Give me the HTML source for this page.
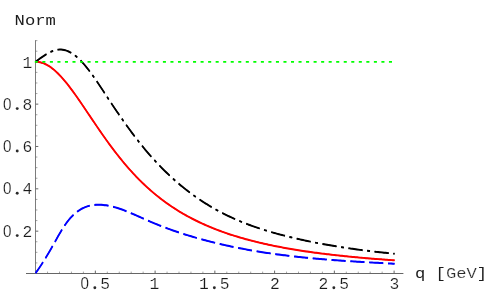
<!DOCTYPE html>
<html><head><meta charset="utf-8"><title>Norm vs q</title>
<style>
html,body{margin:0;padding:0;background:#fff;}
body{width:491px;height:303px;overflow:hidden;}
svg{display:block;will-change:transform;}
text{font-family:"Liberation Mono",monospace;fill:#1a1a1a;stroke:#fff;stroke-width:0.18px;}
text.z{font-family:"Liberation Sans",sans-serif;}
text.l{stroke:none;fill:#1c1c1c;}
tspan.t{stroke:#fff;stroke-width:0.2px;fill:#2a2a2a;}
</style></head><body>
<svg width="491" height="303" viewBox="0 0 491 303">
<rect width="491" height="303" fill="#fff"/>
<g stroke="#666" stroke-width="1" fill="none">
<line x1="26.0" y1="273.5" x2="403.4" y2="273.5"/>
<line x1="35.5" y1="40.2" x2="35.5" y2="273.5" stroke="#757575" stroke-width="0.95"/>
<line x1="47.55" y1="273.50" x2="47.55" y2="271.60" stroke-opacity="0.6"/>
<line x1="59.50" y1="273.50" x2="59.50" y2="271.60" stroke-opacity="0.6"/>
<line x1="71.45" y1="273.50" x2="71.45" y2="271.60" stroke-opacity="0.6"/>
<line x1="83.40" y1="273.50" x2="83.40" y2="271.60" stroke-opacity="0.6"/>
<line x1="95.35" y1="273.50" x2="95.35" y2="270.60"/>
<line x1="107.30" y1="273.50" x2="107.30" y2="271.60" stroke-opacity="0.6"/>
<line x1="119.25" y1="273.50" x2="119.25" y2="271.60" stroke-opacity="0.6"/>
<line x1="131.20" y1="273.50" x2="131.20" y2="271.60" stroke-opacity="0.6"/>
<line x1="143.15" y1="273.50" x2="143.15" y2="271.60" stroke-opacity="0.6"/>
<line x1="155.10" y1="273.50" x2="155.10" y2="270.60"/>
<line x1="167.05" y1="273.50" x2="167.05" y2="271.60" stroke-opacity="0.6"/>
<line x1="179.00" y1="273.50" x2="179.00" y2="271.60" stroke-opacity="0.6"/>
<line x1="190.95" y1="273.50" x2="190.95" y2="271.60" stroke-opacity="0.6"/>
<line x1="202.90" y1="273.50" x2="202.90" y2="271.60" stroke-opacity="0.6"/>
<line x1="214.85" y1="273.50" x2="214.85" y2="270.60"/>
<line x1="226.80" y1="273.50" x2="226.80" y2="271.60" stroke-opacity="0.6"/>
<line x1="238.75" y1="273.50" x2="238.75" y2="271.60" stroke-opacity="0.6"/>
<line x1="250.70" y1="273.50" x2="250.70" y2="271.60" stroke-opacity="0.6"/>
<line x1="262.65" y1="273.50" x2="262.65" y2="271.60" stroke-opacity="0.6"/>
<line x1="274.60" y1="273.50" x2="274.60" y2="270.60"/>
<line x1="286.55" y1="273.50" x2="286.55" y2="271.60" stroke-opacity="0.6"/>
<line x1="298.50" y1="273.50" x2="298.50" y2="271.60" stroke-opacity="0.6"/>
<line x1="310.45" y1="273.50" x2="310.45" y2="271.60" stroke-opacity="0.6"/>
<line x1="322.40" y1="273.50" x2="322.40" y2="271.60" stroke-opacity="0.6"/>
<line x1="334.35" y1="273.50" x2="334.35" y2="270.60"/>
<line x1="346.30" y1="273.50" x2="346.30" y2="271.60" stroke-opacity="0.6"/>
<line x1="358.25" y1="273.50" x2="358.25" y2="271.60" stroke-opacity="0.6"/>
<line x1="370.20" y1="273.50" x2="370.20" y2="271.60" stroke-opacity="0.6"/>
<line x1="382.15" y1="273.50" x2="382.15" y2="271.60" stroke-opacity="0.6"/>
<line x1="394.10" y1="273.50" x2="394.10" y2="270.60"/>
<line x1="35.60" y1="262.92" x2="37.40" y2="262.92" stroke-opacity="0.6"/>
<line x1="35.60" y1="252.33" x2="37.40" y2="252.33" stroke-opacity="0.6"/>
<line x1="35.60" y1="241.75" x2="37.40" y2="241.75" stroke-opacity="0.6"/>
<line x1="35.60" y1="231.16" x2="38.30" y2="231.16"/>
<line x1="35.60" y1="220.57" x2="37.40" y2="220.57" stroke-opacity="0.6"/>
<line x1="35.60" y1="209.99" x2="37.40" y2="209.99" stroke-opacity="0.6"/>
<line x1="35.60" y1="199.41" x2="37.40" y2="199.41" stroke-opacity="0.6"/>
<line x1="35.60" y1="188.82" x2="38.30" y2="188.82"/>
<line x1="35.60" y1="178.24" x2="37.40" y2="178.24" stroke-opacity="0.6"/>
<line x1="35.60" y1="167.65" x2="37.40" y2="167.65" stroke-opacity="0.6"/>
<line x1="35.60" y1="157.06" x2="37.40" y2="157.06" stroke-opacity="0.6"/>
<line x1="35.60" y1="146.48" x2="38.30" y2="146.48"/>
<line x1="35.60" y1="135.90" x2="37.40" y2="135.90" stroke-opacity="0.6"/>
<line x1="35.60" y1="125.31" x2="37.40" y2="125.31" stroke-opacity="0.6"/>
<line x1="35.60" y1="114.73" x2="37.40" y2="114.73" stroke-opacity="0.6"/>
<line x1="35.60" y1="104.14" x2="38.30" y2="104.14"/>
<line x1="35.60" y1="93.55" x2="37.40" y2="93.55" stroke-opacity="0.6"/>
<line x1="35.60" y1="82.97" x2="37.40" y2="82.97" stroke-opacity="0.6"/>
<line x1="35.60" y1="72.38" x2="37.40" y2="72.38" stroke-opacity="0.6"/>
<line x1="35.60" y1="61.80" x2="38.30" y2="61.80"/>
<line x1="35.60" y1="51.22" x2="37.40" y2="51.22" stroke-opacity="0.6"/>
<line x1="35.60" y1="40.63" x2="37.40" y2="40.63" stroke-opacity="0.6"/>
</g>
<g stroke="#ff0000" stroke-width="1.55" fill="none"><path d="M35.60,61.58 L37.10,61.63 L38.60,61.79 L40.11,62.06 L41.61,62.45 L43.11,62.94 L44.61,63.54 L46.11,64.24 L47.62,65.06 L49.12,65.97 L50.62,66.98 L52.12,68.08 L53.63,69.28 L55.13,70.57 L56.63,71.94 L58.13,73.40 L59.63,74.93 L61.14,76.54 L62.64,78.21 L64.14,79.95 L65.64,81.76 L67.14,83.61 L68.65,85.53 L70.15,87.49 L71.65,89.49 L73.15,91.53 L74.65,93.61 L76.16,95.72 L77.66,97.86 L79.16,100.03 L80.66,102.21 L82.16,104.41 L83.67,106.62 L85.17,108.85 L86.67,111.08 L88.17,113.31 L89.68,115.55 L91.18,117.79 L92.68,120.02 L94.18,122.24 L95.68,124.46 L97.19,126.67 L98.69,128.86 L100.19,131.04 L101.69,133.21 L103.19,135.35 L104.70,137.48 L106.20,139.59 L107.70,141.67 L109.20,143.74 L110.70,145.78 L112.21,147.79 L113.71,149.78 L115.21,151.75 L116.71,153.69 L118.22,155.60 L119.72,157.49 L121.22,159.35 L122.72,161.18 L124.22,162.99 L125.73,164.76 L127.23,166.51 L128.73,168.23 L130.23,169.92 L131.73,171.58 L133.24,173.22 L134.74,174.83 L136.24,176.41 L137.74,177.96 L139.24,179.49 L140.75,180.98 L142.25,182.46 L143.75,183.90 L145.25,185.32 L146.75,186.71 L148.26,188.08 L149.76,189.42 L151.26,190.74 L152.76,192.03 L154.27,193.30 L155.77,194.55 L157.27,195.77 L158.77,196.97 L160.27,198.15 L161.78,199.30 L163.28,200.43 L164.78,201.54 L166.28,202.63 L167.78,203.70 L169.29,204.75 L170.79,205.78 L172.29,206.78 L173.79,207.77 L175.29,208.74 L176.80,209.70 L178.30,210.63 L179.80,211.55 L181.30,212.45 L182.81,213.33 L184.31,214.19 L185.81,215.04 L187.31,215.87 L188.81,216.69 L190.32,217.49 L191.82,218.28 L193.32,219.05 L194.82,219.81 L196.32,220.55 L197.83,221.28 L199.33,222.00 L200.83,222.70 L202.33,223.40 L203.83,224.08 L205.34,224.75 L206.84,225.40 L208.34,226.05 L209.84,226.68 L211.34,227.30 L212.85,227.91 L214.35,228.51 L215.85,229.10 L217.35,229.68 L218.86,230.25 L220.36,230.81 L221.86,231.36 L223.36,231.90 L224.86,232.43 L226.37,232.95 L227.87,233.46 L229.37,233.96 L230.87,234.45 L232.37,234.94 L233.88,235.41 L235.38,235.88 L236.88,236.34 L238.38,236.80 L239.88,237.24 L241.39,237.68 L242.89,238.11 L244.39,238.53 L245.89,238.95 L247.39,239.36 L248.90,239.76 L250.40,240.16 L251.90,240.55 L253.40,240.93 L254.91,241.31 L256.41,241.68 L257.91,242.05 L259.41,242.40 L260.91,242.76 L262.42,243.11 L263.92,243.45 L265.42,243.79 L266.92,244.12 L268.42,244.44 L269.93,244.77 L271.43,245.08 L272.93,245.39 L274.43,245.70 L275.93,246.00 L277.44,246.30 L278.94,246.59 L280.44,246.88 L281.94,247.17 L283.45,247.45 L284.95,247.72 L286.45,248.00 L287.95,248.26 L289.45,248.53 L290.96,248.79 L292.46,249.04 L293.96,249.30 L295.46,249.55 L296.96,249.79 L298.47,250.03 L299.97,250.27 L301.47,250.50 L302.97,250.73 L304.47,250.95 L305.98,251.17 L307.48,251.39 L308.98,251.61 L310.48,251.82 L311.98,252.03 L313.49,252.23 L314.99,252.43 L316.49,252.63 L317.99,252.83 L319.50,253.02 L321.00,253.22 L322.50,253.41 L324.00,253.59 L325.50,253.78 L327.01,253.96 L328.51,254.14 L330.01,254.31 L331.51,254.49 L333.01,254.66 L334.52,254.83 L336.02,255.00 L337.52,255.16 L339.02,255.32 L340.52,255.48 L342.03,255.64 L343.53,255.80 L345.03,255.96 L346.53,256.11 L348.04,256.26 L349.54,256.41 L351.04,256.55 L352.54,256.70 L354.04,256.84 L355.55,256.98 L357.05,257.12 L358.55,257.26 L360.05,257.40 L361.55,257.53 L363.06,257.66 L364.56,257.80 L366.06,257.92 L367.56,258.05 L369.06,258.18 L370.57,258.30 L372.07,258.43 L373.57,258.55 L375.07,258.67 L376.57,258.79 L378.08,258.91 L379.58,259.02 L381.08,259.14 L382.58,259.25 L384.09,259.36 L385.59,259.47 L387.09,259.58 L388.59,259.69 L390.09,259.80 L391.60,259.90 L393.10,260.01 L394.60,260.11"/><path d="M35.60,62.02 L37.10,62.07 L38.60,62.23 L40.11,62.50 L41.61,62.89 L43.11,63.38 L44.61,63.98 L46.11,64.68 L47.62,65.50 L49.12,66.41 L50.62,67.42 L52.12,68.52 L53.63,69.72 L55.13,71.01 L56.63,72.38 L58.13,73.84 L59.63,75.37 L61.14,76.98 L62.64,78.65 L64.14,80.39 L65.64,82.20 L67.14,84.05 L68.65,85.97 L70.15,87.93 L71.65,89.93 L73.15,91.97 L74.65,94.05 L76.16,96.16 L77.66,98.30 L79.16,100.47 L80.66,102.65 L82.16,104.85 L83.67,107.06 L85.17,109.29 L86.67,111.52 L88.17,113.75 L89.68,115.99 L91.18,118.23 L92.68,120.46 L94.18,122.68 L95.68,124.90 L97.19,127.11 L98.69,129.30 L100.19,131.48 L101.69,133.65 L103.19,135.79 L104.70,137.92 L106.20,140.03 L107.70,142.11 L109.20,144.18 L110.70,146.22 L112.21,148.23 L113.71,150.22 L115.21,152.19 L116.71,154.13 L118.22,156.04 L119.72,157.93 L121.22,159.79 L122.72,161.62 L124.22,163.43 L125.73,165.20 L127.23,166.95 L128.73,168.67 L130.23,170.36 L131.73,172.02 L133.24,173.66 L134.74,175.27 L136.24,176.85 L137.74,178.40 L139.24,179.93 L140.75,181.42 L142.25,182.90 L143.75,184.34 L145.25,185.76 L146.75,187.15 L148.26,188.52 L149.76,189.86 L151.26,191.18 L152.76,192.47 L154.27,193.74 L155.77,194.99 L157.27,196.21 L158.77,197.41 L160.27,198.59 L161.78,199.74 L163.28,200.87 L164.78,201.98 L166.28,203.07 L167.78,204.14 L169.29,205.19 L170.79,206.22 L172.29,207.22 L173.79,208.21 L175.29,209.18 L176.80,210.14 L178.30,211.07 L179.80,211.99 L181.30,212.89 L182.81,213.77 L184.31,214.63 L185.81,215.48 L187.31,216.31 L188.81,217.13 L190.32,217.93 L191.82,218.72 L193.32,219.49 L194.82,220.25 L196.32,220.99 L197.83,221.72 L199.33,222.44 L200.83,223.14 L202.33,223.84 L203.83,224.52 L205.34,225.19 L206.84,225.84 L208.34,226.49 L209.84,227.12 L211.34,227.74 L212.85,228.35 L214.35,228.95 L215.85,229.54 L217.35,230.12 L218.86,230.69 L220.36,231.25 L221.86,231.80 L223.36,232.34 L224.86,232.87 L226.37,233.39 L227.87,233.90 L229.37,234.40 L230.87,234.89 L232.37,235.38 L233.88,235.85 L235.38,236.32 L236.88,236.78 L238.38,237.24 L239.88,237.68 L241.39,238.12 L242.89,238.55 L244.39,238.97 L245.89,239.39 L247.39,239.80 L248.90,240.20 L250.40,240.60 L251.90,240.99 L253.40,241.37 L254.91,241.75 L256.41,242.12 L257.91,242.49 L259.41,242.84 L260.91,243.20 L262.42,243.55 L263.92,243.89 L265.42,244.23 L266.92,244.56 L268.42,244.88 L269.93,245.21 L271.43,245.52 L272.93,245.83 L274.43,246.14 L275.93,246.44 L277.44,246.74 L278.94,247.03 L280.44,247.32 L281.94,247.61 L283.45,247.89 L284.95,248.16 L286.45,248.44 L287.95,248.70 L289.45,248.97 L290.96,249.23 L292.46,249.48 L293.96,249.74 L295.46,249.99 L296.96,250.23 L298.47,250.47 L299.97,250.71 L301.47,250.94 L302.97,251.17 L304.47,251.39 L305.98,251.61 L307.48,251.83 L308.98,252.05 L310.48,252.26 L311.98,252.47 L313.49,252.67 L314.99,252.87 L316.49,253.07 L317.99,253.27 L319.50,253.46 L321.00,253.66 L322.50,253.85 L324.00,254.03 L325.50,254.22 L327.01,254.40 L328.51,254.58 L330.01,254.75 L331.51,254.93 L333.01,255.10 L334.52,255.27 L336.02,255.44 L337.52,255.60 L339.02,255.76 L340.52,255.92 L342.03,256.08 L343.53,256.24 L345.03,256.40 L346.53,256.55 L348.04,256.70 L349.54,256.85 L351.04,256.99 L352.54,257.14 L354.04,257.28 L355.55,257.42 L357.05,257.56 L358.55,257.70 L360.05,257.84 L361.55,257.97 L363.06,258.10 L364.56,258.24 L366.06,258.36 L367.56,258.49 L369.06,258.62 L370.57,258.74 L372.07,258.87 L373.57,258.99 L375.07,259.11 L376.57,259.23 L378.08,259.35 L379.58,259.46 L381.08,259.58 L382.58,259.69 L384.09,259.80 L385.59,259.91 L387.09,260.02 L388.59,260.13 L390.09,260.24 L391.60,260.34 L393.10,260.45 L394.60,260.55"/></g>
<g stroke="#0000ff" stroke-width="1.55" fill="none" stroke-dasharray="14.1 4.75" stroke-dashoffset="1"><path d="M35.60,272.84 L37.10,270.77 L38.60,268.63 L40.11,266.42 L41.61,264.14 L43.11,261.80 L44.61,259.40 L46.11,256.95 L47.62,254.45 L49.12,251.90 L50.62,249.31 L52.12,246.68 L53.63,244.02 L55.13,241.33 L56.63,238.65 L58.13,235.98 L59.63,233.37 L61.14,230.82 L62.64,228.37 L64.14,226.03 L65.64,223.83 L67.14,221.78 L68.65,219.87 L70.15,218.09 L71.65,216.45 L73.15,214.94 L74.65,213.55 L76.16,212.28 L77.66,211.13 L79.16,210.09 L80.66,209.15 L82.16,208.31 L83.67,207.58 L85.17,206.93 L86.67,206.37 L88.17,205.90 L89.68,205.50 L91.18,205.18 L92.68,204.93 L94.18,204.74 L95.68,204.62 L97.19,204.55 L98.69,204.53 L100.19,204.56 L101.69,204.64 L103.19,204.76 L104.70,204.93 L106.20,205.13 L107.70,205.38 L109.20,205.66 L110.70,205.98 L112.21,206.33 L113.71,206.71 L115.21,207.13 L116.71,207.57 L118.22,208.04 L119.72,208.54 L121.22,209.06 L122.72,209.60 L124.22,210.16 L125.73,210.75 L127.23,211.34 L128.73,211.96 L130.23,212.59 L131.73,213.23 L133.24,213.87 L134.74,214.53 L136.24,215.20 L137.74,215.87 L139.24,216.54 L140.75,217.21 L142.25,217.89 L143.75,218.56 L145.25,219.23 L146.75,219.90 L148.26,220.55 L149.76,221.20 L151.26,221.84 L152.76,222.47 L154.27,223.10 L155.77,223.71 L157.27,224.32 L158.77,224.92 L160.27,225.51 L161.78,226.10 L163.28,226.67 L164.78,227.24 L166.28,227.80 L167.78,228.36 L169.29,228.90 L170.79,229.44 L172.29,229.98 L173.79,230.50 L175.29,231.02 L176.80,231.53 L178.30,232.04 L179.80,232.54 L181.30,233.03 L182.81,233.51 L184.31,233.99 L185.81,234.47 L187.31,234.94 L188.81,235.40 L190.32,235.85 L191.82,236.30 L193.32,236.75 L194.82,237.19 L196.32,237.62 L197.83,238.05 L199.33,238.47 L200.83,238.89 L202.33,239.30 L203.83,239.71 L205.34,240.11 L206.84,240.51 L208.34,240.90 L209.84,241.28 L211.34,241.67 L212.85,242.04 L214.35,242.41 L215.85,242.78 L217.35,243.14 L218.86,243.50 L220.36,243.85 L221.86,244.20 L223.36,244.55 L224.86,244.89 L226.37,245.22 L227.87,245.55 L229.37,245.88 L230.87,246.20 L232.37,246.51 L233.88,246.83 L235.38,247.13 L236.88,247.44 L238.38,247.74 L239.88,248.03 L241.39,248.32 L242.89,248.61 L244.39,248.89 L245.89,249.17 L247.39,249.45 L248.90,249.72 L250.40,249.98 L251.90,250.25 L253.40,250.51 L254.91,250.76 L256.41,251.01 L257.91,251.26 L259.41,251.51 L260.91,251.75 L262.42,251.98 L263.92,252.22 L265.42,252.45 L266.92,252.67 L268.42,252.90 L269.93,253.12 L271.43,253.33 L272.93,253.55 L274.43,253.76 L275.93,253.96 L277.44,254.17 L278.94,254.37 L280.44,254.56 L281.94,254.76 L283.45,254.95 L284.95,255.14 L286.45,255.32 L287.95,255.50 L289.45,255.68 L290.96,255.86 L292.46,256.03 L293.96,256.21 L295.46,256.37 L296.96,256.54 L298.47,256.70 L299.97,256.86 L301.47,257.02 L302.97,257.18 L304.47,257.33 L305.98,257.48 L307.48,257.63 L308.98,257.77 L310.48,257.92 L311.98,258.06 L313.49,258.20 L314.99,258.33 L316.49,258.47 L317.99,258.60 L319.50,258.73 L321.00,258.86 L322.50,258.99 L324.00,259.11 L325.50,259.23 L327.01,259.35 L328.51,259.47 L330.01,259.59 L331.51,259.71 L333.01,259.82 L334.52,259.93 L336.02,260.04 L337.52,260.15 L339.02,260.26 L340.52,260.37 L342.03,260.47 L343.53,260.57 L345.03,260.67 L346.53,260.77 L348.04,260.87 L349.54,260.97 L351.04,261.07 L352.54,261.16 L354.04,261.26 L355.55,261.35 L357.05,261.44 L358.55,261.53 L360.05,261.62 L361.55,261.71 L363.06,261.80 L364.56,261.89 L366.06,261.98 L367.56,262.06 L369.06,262.15 L370.57,262.23 L372.07,262.32 L373.57,262.40 L375.07,262.48 L376.57,262.56 L378.08,262.64 L379.58,262.73 L381.08,262.81 L382.58,262.89 L384.09,262.97 L385.59,263.05 L387.09,263.13 L388.59,263.21 L390.09,263.28 L391.60,263.36 L393.10,263.44 L394.60,263.52"/><path d="M35.60,273.28 L37.10,271.21 L38.60,269.07 L40.11,266.86 L41.61,264.58 L43.11,262.24 L44.61,259.84 L46.11,257.39 L47.62,254.89 L49.12,252.34 L50.62,249.75 L52.12,247.12 L53.63,244.46 L55.13,241.77 L56.63,239.09 L58.13,236.42 L59.63,233.81 L61.14,231.26 L62.64,228.81 L64.14,226.47 L65.64,224.27 L67.14,222.22 L68.65,220.31 L70.15,218.53 L71.65,216.89 L73.15,215.38 L74.65,213.99 L76.16,212.72 L77.66,211.57 L79.16,210.53 L80.66,209.59 L82.16,208.75 L83.67,208.02 L85.17,207.37 L86.67,206.81 L88.17,206.34 L89.68,205.94 L91.18,205.62 L92.68,205.37 L94.18,205.18 L95.68,205.06 L97.19,204.99 L98.69,204.97 L100.19,205.00 L101.69,205.08 L103.19,205.20 L104.70,205.37 L106.20,205.57 L107.70,205.82 L109.20,206.10 L110.70,206.42 L112.21,206.77 L113.71,207.15 L115.21,207.57 L116.71,208.01 L118.22,208.48 L119.72,208.98 L121.22,209.50 L122.72,210.04 L124.22,210.60 L125.73,211.19 L127.23,211.78 L128.73,212.40 L130.23,213.03 L131.73,213.67 L133.24,214.31 L134.74,214.97 L136.24,215.64 L137.74,216.31 L139.24,216.98 L140.75,217.65 L142.25,218.33 L143.75,219.00 L145.25,219.67 L146.75,220.34 L148.26,220.99 L149.76,221.64 L151.26,222.28 L152.76,222.91 L154.27,223.54 L155.77,224.15 L157.27,224.76 L158.77,225.36 L160.27,225.95 L161.78,226.54 L163.28,227.11 L164.78,227.68 L166.28,228.24 L167.78,228.80 L169.29,229.34 L170.79,229.88 L172.29,230.42 L173.79,230.94 L175.29,231.46 L176.80,231.97 L178.30,232.48 L179.80,232.98 L181.30,233.47 L182.81,233.95 L184.31,234.43 L185.81,234.91 L187.31,235.38 L188.81,235.84 L190.32,236.29 L191.82,236.74 L193.32,237.19 L194.82,237.63 L196.32,238.06 L197.83,238.49 L199.33,238.91 L200.83,239.33 L202.33,239.74 L203.83,240.15 L205.34,240.55 L206.84,240.95 L208.34,241.34 L209.84,241.72 L211.34,242.11 L212.85,242.48 L214.35,242.85 L215.85,243.22 L217.35,243.58 L218.86,243.94 L220.36,244.29 L221.86,244.64 L223.36,244.99 L224.86,245.33 L226.37,245.66 L227.87,245.99 L229.37,246.32 L230.87,246.64 L232.37,246.95 L233.88,247.27 L235.38,247.57 L236.88,247.88 L238.38,248.18 L239.88,248.47 L241.39,248.76 L242.89,249.05 L244.39,249.33 L245.89,249.61 L247.39,249.89 L248.90,250.16 L250.40,250.42 L251.90,250.69 L253.40,250.95 L254.91,251.20 L256.41,251.45 L257.91,251.70 L259.41,251.95 L260.91,252.19 L262.42,252.42 L263.92,252.66 L265.42,252.89 L266.92,253.11 L268.42,253.34 L269.93,253.56 L271.43,253.77 L272.93,253.99 L274.43,254.20 L275.93,254.40 L277.44,254.61 L278.94,254.81 L280.44,255.00 L281.94,255.20 L283.45,255.39 L284.95,255.58 L286.45,255.76 L287.95,255.94 L289.45,256.12 L290.96,256.30 L292.46,256.47 L293.96,256.65 L295.46,256.81 L296.96,256.98 L298.47,257.14 L299.97,257.30 L301.47,257.46 L302.97,257.62 L304.47,257.77 L305.98,257.92 L307.48,258.07 L308.98,258.21 L310.48,258.36 L311.98,258.50 L313.49,258.64 L314.99,258.77 L316.49,258.91 L317.99,259.04 L319.50,259.17 L321.00,259.30 L322.50,259.43 L324.00,259.55 L325.50,259.67 L327.01,259.79 L328.51,259.91 L330.01,260.03 L331.51,260.15 L333.01,260.26 L334.52,260.37 L336.02,260.48 L337.52,260.59 L339.02,260.70 L340.52,260.81 L342.03,260.91 L343.53,261.01 L345.03,261.11 L346.53,261.21 L348.04,261.31 L349.54,261.41 L351.04,261.51 L352.54,261.60 L354.04,261.70 L355.55,261.79 L357.05,261.88 L358.55,261.97 L360.05,262.06 L361.55,262.15 L363.06,262.24 L364.56,262.33 L366.06,262.42 L367.56,262.50 L369.06,262.59 L370.57,262.67 L372.07,262.76 L373.57,262.84 L375.07,262.92 L376.57,263.00 L378.08,263.08 L379.58,263.17 L381.08,263.25 L382.58,263.33 L384.09,263.41 L385.59,263.49 L387.09,263.57 L388.59,263.65 L390.09,263.72 L391.60,263.80 L393.10,263.88 L394.60,263.96"/></g>
<g stroke="#000" stroke-width="1.5" fill="none" stroke-dasharray="14.3 4.55 2.9 4.58" stroke-dashoffset="1"><path d="M35.60,61.58 L37.10,60.45 L38.60,59.32 L40.11,58.22 L41.61,57.14 L43.11,56.09 L44.61,55.09 L46.11,54.14 L47.62,53.25 L49.12,52.43 L50.62,51.69 L52.12,51.03 L53.63,50.47 L55.13,50.00 L56.63,49.66 L58.13,49.43 L59.63,49.32 L61.14,49.35 L62.64,49.49 L64.14,49.76 L65.64,50.15 L67.14,50.66 L68.65,51.29 L70.15,52.04 L71.65,52.90 L73.15,53.87 L74.65,54.95 L76.16,56.15 L77.66,57.45 L79.16,58.86 L80.66,60.36 L82.16,61.95 L83.67,63.63 L85.17,65.39 L86.67,67.23 L88.17,69.13 L89.68,71.10 L91.18,73.12 L92.68,75.20 L94.18,77.32 L95.68,79.48 L97.19,81.68 L98.69,83.91 L100.19,86.16 L101.69,88.43 L103.19,90.71 L104.70,93.00 L106.20,95.29 L107.70,97.58 L109.20,99.85 L110.70,102.12 L112.21,104.37 L113.71,106.61 L115.21,108.84 L116.71,111.05 L118.22,113.25 L119.72,115.43 L121.22,117.59 L122.72,119.74 L124.22,121.87 L125.73,123.99 L127.23,126.08 L128.73,128.15 L130.23,130.21 L131.73,132.24 L133.24,134.25 L134.74,136.24 L136.24,138.20 L137.74,140.14 L139.24,142.06 L140.75,143.94 L142.25,145.81 L143.75,147.65 L145.25,149.46 L146.75,151.24 L148.26,153.00 L149.76,154.73 L151.26,156.44 L152.76,158.12 L154.27,159.78 L155.77,161.41 L157.27,163.02 L158.77,164.60 L160.27,166.16 L161.78,167.69 L163.28,169.21 L164.78,170.69 L166.28,172.16 L167.78,173.60 L169.29,175.03 L170.79,176.42 L172.29,177.80 L173.79,179.16 L175.29,180.49 L176.80,181.81 L178.30,183.10 L179.80,184.37 L181.30,185.62 L182.81,186.85 L184.31,188.06 L185.81,189.26 L187.31,190.43 L188.81,191.58 L190.32,192.72 L191.82,193.83 L193.32,194.93 L194.82,196.01 L196.32,197.07 L197.83,198.11 L199.33,199.14 L200.83,200.14 L202.33,201.13 L203.83,202.11 L205.34,203.06 L206.84,204.00 L208.34,204.93 L209.84,205.84 L211.34,206.73 L212.85,207.60 L214.35,208.46 L215.85,209.31 L217.35,210.14 L218.86,210.96 L220.36,211.76 L221.86,212.54 L223.36,213.32 L224.86,214.07 L226.37,214.82 L227.87,215.55 L229.37,216.27 L230.87,216.98 L232.37,217.67 L233.88,218.35 L235.38,219.02 L236.88,219.67 L238.38,220.32 L239.88,220.95 L241.39,221.57 L242.89,222.18 L244.39,222.78 L245.89,223.36 L247.39,223.94 L248.90,224.51 L250.40,225.06 L251.90,225.61 L253.40,226.15 L254.91,226.67 L256.41,227.19 L257.91,227.70 L259.41,228.20 L260.91,228.70 L262.42,229.18 L263.92,229.65 L265.42,230.12 L266.92,230.58 L268.42,231.03 L269.93,231.48 L271.43,231.92 L272.93,232.35 L274.43,232.77 L275.93,233.19 L277.44,233.61 L278.94,234.01 L280.44,234.41 L281.94,234.81 L283.45,235.20 L284.95,235.58 L286.45,235.96 L287.95,236.34 L289.45,236.71 L290.96,237.08 L292.46,237.44 L293.96,237.80 L295.46,238.15 L296.96,238.50 L298.47,238.84 L299.97,239.18 L301.47,239.51 L302.97,239.84 L304.47,240.17 L305.98,240.49 L307.48,240.81 L308.98,241.12 L310.48,241.43 L311.98,241.74 L313.49,242.04 L314.99,242.34 L316.49,242.63 L317.99,242.92 L319.50,243.20 L321.00,243.49 L322.50,243.76 L324.00,244.04 L325.50,244.31 L327.01,244.58 L328.51,244.84 L330.01,245.10 L331.51,245.36 L333.01,245.61 L334.52,245.86 L336.02,246.10 L337.52,246.35 L339.02,246.59 L340.52,246.82 L342.03,247.06 L343.53,247.29 L345.03,247.51 L346.53,247.74 L348.04,247.96 L349.54,248.17 L351.04,248.39 L352.54,248.60 L354.04,248.81 L355.55,249.02 L357.05,249.22 L358.55,249.42 L360.05,249.62 L361.55,249.81 L363.06,250.01 L364.56,250.20 L366.06,250.39 L367.56,250.57 L369.06,250.75 L370.57,250.93 L372.07,251.11 L373.57,251.29 L375.07,251.46 L376.57,251.63 L378.08,251.80 L379.58,251.97 L381.08,252.14 L382.58,252.30 L384.09,252.46 L385.59,252.62 L387.09,252.78 L388.59,252.93 L390.09,253.09 L391.60,253.24 L393.10,253.39 L394.60,253.54"/><path d="M35.60,62.02 L37.10,60.89 L38.60,59.76 L40.11,58.66 L41.61,57.58 L43.11,56.53 L44.61,55.53 L46.11,54.58 L47.62,53.69 L49.12,52.87 L50.62,52.13 L52.12,51.47 L53.63,50.91 L55.13,50.44 L56.63,50.10 L58.13,49.87 L59.63,49.76 L61.14,49.79 L62.64,49.93 L64.14,50.20 L65.64,50.59 L67.14,51.10 L68.65,51.73 L70.15,52.48 L71.65,53.34 L73.15,54.31 L74.65,55.39 L76.16,56.59 L77.66,57.89 L79.16,59.30 L80.66,60.80 L82.16,62.39 L83.67,64.07 L85.17,65.83 L86.67,67.67 L88.17,69.57 L89.68,71.54 L91.18,73.56 L92.68,75.64 L94.18,77.76 L95.68,79.92 L97.19,82.12 L98.69,84.35 L100.19,86.60 L101.69,88.87 L103.19,91.15 L104.70,93.44 L106.20,95.73 L107.70,98.02 L109.20,100.29 L110.70,102.56 L112.21,104.81 L113.71,107.05 L115.21,109.28 L116.71,111.49 L118.22,113.69 L119.72,115.87 L121.22,118.03 L122.72,120.18 L124.22,122.31 L125.73,124.43 L127.23,126.52 L128.73,128.59 L130.23,130.65 L131.73,132.68 L133.24,134.69 L134.74,136.68 L136.24,138.64 L137.74,140.58 L139.24,142.50 L140.75,144.38 L142.25,146.25 L143.75,148.09 L145.25,149.90 L146.75,151.68 L148.26,153.44 L149.76,155.17 L151.26,156.88 L152.76,158.56 L154.27,160.22 L155.77,161.85 L157.27,163.46 L158.77,165.04 L160.27,166.60 L161.78,168.13 L163.28,169.65 L164.78,171.13 L166.28,172.60 L167.78,174.04 L169.29,175.47 L170.79,176.86 L172.29,178.24 L173.79,179.60 L175.29,180.93 L176.80,182.25 L178.30,183.54 L179.80,184.81 L181.30,186.06 L182.81,187.29 L184.31,188.50 L185.81,189.70 L187.31,190.87 L188.81,192.02 L190.32,193.16 L191.82,194.27 L193.32,195.37 L194.82,196.45 L196.32,197.51 L197.83,198.55 L199.33,199.58 L200.83,200.58 L202.33,201.57 L203.83,202.55 L205.34,203.50 L206.84,204.44 L208.34,205.37 L209.84,206.28 L211.34,207.17 L212.85,208.04 L214.35,208.90 L215.85,209.75 L217.35,210.58 L218.86,211.40 L220.36,212.20 L221.86,212.98 L223.36,213.76 L224.86,214.51 L226.37,215.26 L227.87,215.99 L229.37,216.71 L230.87,217.42 L232.37,218.11 L233.88,218.79 L235.38,219.46 L236.88,220.11 L238.38,220.76 L239.88,221.39 L241.39,222.01 L242.89,222.62 L244.39,223.22 L245.89,223.80 L247.39,224.38 L248.90,224.95 L250.40,225.50 L251.90,226.05 L253.40,226.59 L254.91,227.11 L256.41,227.63 L257.91,228.14 L259.41,228.64 L260.91,229.14 L262.42,229.62 L263.92,230.09 L265.42,230.56 L266.92,231.02 L268.42,231.47 L269.93,231.92 L271.43,232.36 L272.93,232.79 L274.43,233.21 L275.93,233.63 L277.44,234.05 L278.94,234.45 L280.44,234.85 L281.94,235.25 L283.45,235.64 L284.95,236.02 L286.45,236.40 L287.95,236.78 L289.45,237.15 L290.96,237.52 L292.46,237.88 L293.96,238.24 L295.46,238.59 L296.96,238.94 L298.47,239.28 L299.97,239.62 L301.47,239.95 L302.97,240.28 L304.47,240.61 L305.98,240.93 L307.48,241.25 L308.98,241.56 L310.48,241.87 L311.98,242.18 L313.49,242.48 L314.99,242.78 L316.49,243.07 L317.99,243.36 L319.50,243.64 L321.00,243.93 L322.50,244.20 L324.00,244.48 L325.50,244.75 L327.01,245.02 L328.51,245.28 L330.01,245.54 L331.51,245.80 L333.01,246.05 L334.52,246.30 L336.02,246.54 L337.52,246.79 L339.02,247.03 L340.52,247.26 L342.03,247.50 L343.53,247.73 L345.03,247.95 L346.53,248.18 L348.04,248.40 L349.54,248.61 L351.04,248.83 L352.54,249.04 L354.04,249.25 L355.55,249.46 L357.05,249.66 L358.55,249.86 L360.05,250.06 L361.55,250.25 L363.06,250.45 L364.56,250.64 L366.06,250.83 L367.56,251.01 L369.06,251.19 L370.57,251.37 L372.07,251.55 L373.57,251.73 L375.07,251.90 L376.57,252.07 L378.08,252.24 L379.58,252.41 L381.08,252.58 L382.58,252.74 L384.09,252.90 L385.59,253.06 L387.09,253.22 L388.59,253.37 L390.09,253.53 L391.60,253.68 L393.10,253.83 L394.60,253.98"/></g>
<path d="M34.8,61.8 L393.2,61.8" stroke="#00ff00" stroke-width="1.7" fill="none" stroke-dasharray="3.05 4.485"/>
<g>
<text class="z" transform="translate(84.82,288.90) scale(0.970,1)" font-size="15.7" text-anchor="middle">0</text>
<circle cx="94.85" cy="287.75" r="1.45" fill="#2a2a2a"/>
<text transform="translate(105.08,288.90) scale(1.040,1)" font-size="15.7" text-anchor="middle">5</text>
<text transform="translate(154.50,288.90) scale(1.040,1)" font-size="15.7" text-anchor="middle">1</text>
<text transform="translate(203.92,288.90) scale(1.040,1)" font-size="15.7" text-anchor="middle">1</text>
<circle cx="214.35" cy="287.75" r="1.45" fill="#2a2a2a"/>
<text transform="translate(224.58,288.90) scale(1.040,1)" font-size="15.7" text-anchor="middle">5</text>
<text transform="translate(275.00,288.90) scale(1.040,1)" font-size="15.7" text-anchor="middle">2</text>
<text transform="translate(323.42,288.90) scale(1.040,1)" font-size="15.7" text-anchor="middle">2</text>
<circle cx="333.85" cy="287.75" r="1.45" fill="#2a2a2a"/>
<text transform="translate(344.08,288.90) scale(1.040,1)" font-size="15.7" text-anchor="middle">5</text>
<text transform="translate(394.50,288.90) scale(1.040,1)" font-size="15.7" text-anchor="middle">3</text>
<text class="z" transform="translate(7.18,236.76) scale(0.970,1)" font-size="15.7" text-anchor="middle">0</text>
<circle cx="17.21" cy="235.61" r="1.45" fill="#2a2a2a"/>
<text transform="translate(27.44,236.76) scale(1.040,1)" font-size="15.7" text-anchor="middle">2</text>
<text class="z" transform="translate(7.18,194.42) scale(0.970,1)" font-size="15.7" text-anchor="middle">0</text>
<circle cx="17.21" cy="193.27" r="1.45" fill="#2a2a2a"/>
<text transform="translate(27.44,194.42) scale(1.040,1)" font-size="15.7" text-anchor="middle">4</text>
<text class="z" transform="translate(7.18,152.08) scale(0.970,1)" font-size="15.7" text-anchor="middle">0</text>
<circle cx="17.21" cy="150.93" r="1.45" fill="#2a2a2a"/>
<text transform="translate(27.44,152.08) scale(1.040,1)" font-size="15.7" text-anchor="middle">6</text>
<text class="z" transform="translate(7.18,109.74) scale(0.970,1)" font-size="15.7" text-anchor="middle">0</text>
<circle cx="17.21" cy="108.59" r="1.45" fill="#2a2a2a"/>
<text transform="translate(27.44,109.74) scale(1.040,1)" font-size="15.7" text-anchor="middle">8</text>
<text transform="translate(27.44,68.00) scale(1.040,1)" font-size="15.7" text-anchor="middle">1</text>
<text class="l" transform="translate(14.6,24.9) scale(1.195,1)" font-size="14.4">Norm</text>
<text class="l" transform="translate(414.9,277.9) scale(1.195,1)" font-size="14.4">q [<tspan class="t">GeV</tspan>]</text>
</g>
</svg>
</body></html>
